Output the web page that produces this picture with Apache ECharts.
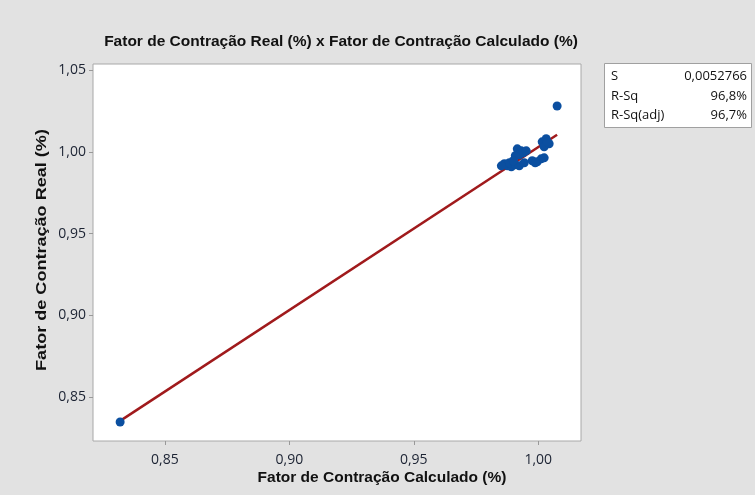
<!DOCTYPE html>
<html>
<head>
<meta charset="utf-8">
<script src="https://cdn.jsdelivr.net/npm/echarts@6/dist/echarts.min.js"></script>
<style>
  html, body { margin: 0; padding: 0; background: #e2e2e2; }
  #chart { width: 755px; height: 495px; }
</style>
</head>
<body>
<div id="chart"></div>
<script>
// Calculated shrinkage factor (x) vs. measured shrinkage factor (y)
const calcFactor = [
  0.8320,
  1.0016, 1.0032, 1.0044, 1.0024, 1.0036,
  0.9916, 0.9932, 0.9924, 0.9940, 0.9908, 0.9952,
  0.9864, 0.9876, 0.9892, 0.9884, 0.9908, 0.9924, 0.9944, 0.9852, 0.9900,
  0.9976, 0.9996, 1.0012, 1.0024, 0.9988,
  1.0076
];
const realFactor = [
  0.8347,
  1.0061, 1.0080, 1.0049, 1.0031, 1.0061,
  1.0018, 1.0006, 0.9982, 0.9994, 0.9976, 1.0006,
  0.9927, 0.9914, 0.9908, 0.9933, 0.9920, 0.9914, 0.9933, 0.9914, 0.9945,
  0.9945, 0.9939, 0.9957, 0.9963, 0.9933,
  1.0280
];
const tickValues = [0.85, 0.90, 0.95, 1.00];
const yTickValues = [0.85, 0.90, 0.95, 1.00, 1.05];
const statNames = ['S', 'R-Sq', 'R-Sq(adj)'];
const statValues = ['0,0052766', '96,8%', '96,7%'];

// Least-squares fitted line
const n = calcFactor.length;
const mx = calcFactor.reduce((a, b) => a + b, 0) / n;
const my = realFactor.reduce((a, b) => a + b, 0) / n;
let sxy = 0, sxx = 0;
for (let i = 0; i < n; i++) {
  sxy += (calcFactor[i] - mx) * (realFactor[i] - my);
  sxx += (calcFactor[i] - mx) ** 2;
}
const slope = sxy / sxx;
const intercept = my - slope * mx;
const xMin = Math.min(...calcFactor), xMax = Math.max(...calcFactor);
const fitLine = [[xMin, intercept + slope * xMin], [xMax, intercept + slope * xMax]];

const points = calcFactor.map((x, i) => [x, realFactor[i]]);
const fmt = v => v.toFixed(2).replace('.', ',');
const font = '"Open Sans", "Noto Sans", sans-serif';
const boldFont = '"Liberation Sans", Arial, sans-serif';

const chart = echarts.init(document.getElementById('chart'));

// stats box rows
const statGraphics = [];
statNames.forEach((name, i) => {
  const y = 76.5 + i * 19.5;
  statGraphics.push({
    type: 'text', x: 611, y: y,
    style: { text: name, font: '13px ' + font, fill: '#111', textVerticalAlign: 'middle' }
  });
  statGraphics.push({
    type: 'text', x: 747, y: y,
    style: { text: statValues[i], font: '13px ' + font, fill: '#111', textAlign: 'right', textVerticalAlign: 'middle' }
  });
});

chart.setOption({
  backgroundColor: '#e2e2e2',
  animation: false,
  grid: {
    left: 93, top: 64, right: 174, bottom: 54,
    show: true, backgroundColor: '#ffffff', borderColor: '#a8a8a8', borderWidth: 1
  },
  xAxis: {
    type: 'value', min: 0.8211, max: 1.0172,
    splitLine: { show: false },
    axisLine: { show: false },
    axisTick: { show: true, length: 4, lineStyle: { color: '#999' }, customValues: tickValues },
    axisLabel: {
      customValues: tickValues, formatter: fmt, margin: 12,
      fontFamily: font, fontSize: 14, color: '#1c2333'
    }
  },
  yAxis: {
    type: 'value', min: 0.8231, max: 1.0537,
    splitLine: { show: false },
    axisLine: { show: false },
    axisTick: { show: true, length: 4, lineStyle: { color: '#999' }, customValues: yTickValues },
    axisLabel: {
      customValues: yTickValues, formatter: fmt, margin: 7,
      fontFamily: font, fontSize: 14, color: '#1c2333'
    }
  },
  graphic: [
    {
      type: 'text', x: 341, y: 42,
      style: {
        text: 'Fator de Contração Real (%) x Fator de Contração Calculado (%)',
        textAlign: 'center', textVerticalAlign: 'middle',
        font: 'bold 15.5px ' + boldFont, fill: '#111'
      }
    },
    {
      type: 'text', x: 382, y: 478,
      style: {
        text: 'Fator de Contração Calculado (%)', textAlign: 'center', textVerticalAlign: 'middle',
        font: 'bold 15.5px ' + boldFont, fill: '#111'
      }
    },
    {
      type: 'text', x: 42, y: 250, rotation: Math.PI / 2, scaleX: 1.29,
      style: {
        text: 'Fator de Contração Real (%)', textAlign: 'center', textVerticalAlign: 'middle',
        font: 'bold 14px ' + boldFont, fill: '#111'
      }
    },
    {
      type: 'rect', shape: { x: 604.5, y: 63.5, width: 147, height: 64 },
      style: { fill: '#ffffff', stroke: '#a0a0a0', lineWidth: 1 }
    },
    ...statGraphics
  ],
  series: [
    {
      type: 'line', data: fitLine, symbol: 'none', z: 2,
      lineStyle: { color: '#a01a1c', width: 2.5 }
    },
    {
      type: 'scatter', data: points, symbol: 'circle', symbolSize: 9, z: 3,
      itemStyle: { color: '#0b4fa0', opacity: 1 }
    }
  ]
});
</script>
</body>
</html>
